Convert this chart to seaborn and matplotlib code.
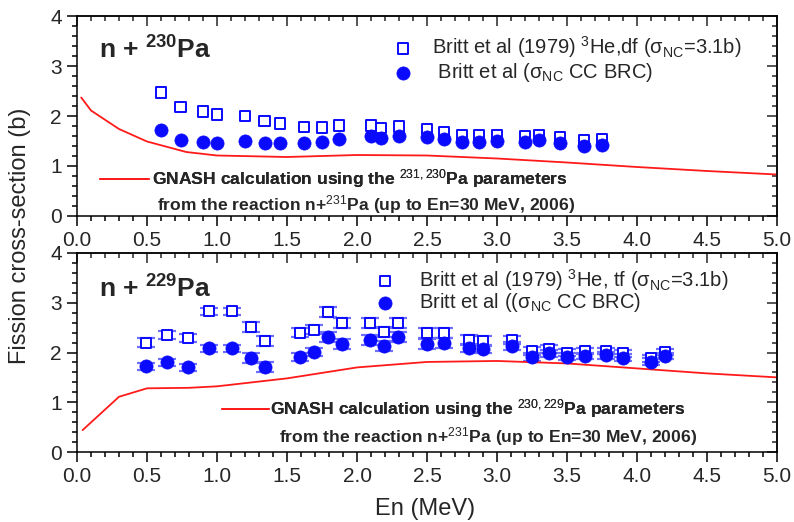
import matplotlib
matplotlib.use('Agg')
import matplotlib.pyplot as plt
import seaborn as sns
import numpy as np
from matplotlib.ticker import MultipleLocator

# ---------------- data: n + 230Pa (top panel) ----------------
e230 = [0.60, 0.74, 0.90, 1.00, 1.20, 1.34, 1.45, 1.62, 1.75, 1.87, 2.10, 2.17,
        2.30, 2.50, 2.62, 2.75, 2.87, 3.00, 3.20, 3.30, 3.45, 3.62, 3.75]
sq230 = [2.47, 2.18, 2.09, 2.03, 2.00, 1.90, 1.85, 1.78, 1.77, 1.81, 1.81, 1.76,
         1.79, 1.74, 1.68, 1.61, 1.61, 1.61, 1.59, 1.61, 1.57, 1.51, 1.53]
ci230 = [1.72, 1.52, 1.47, 1.45, 1.49, 1.45, 1.45, 1.45, 1.47, 1.53, 1.59, 1.56,
         1.60, 1.57, 1.53, 1.48, 1.48, 1.49, 1.48, 1.51, 1.45, 1.40, 1.42]
gx230 = [0.03, 0.10, 0.30, 0.50, 0.78, 1.00, 1.50, 2.00, 2.50, 3.00, 3.50, 4.00, 4.50, 5.00]
gy230 = [2.37, 2.11, 1.74, 1.49, 1.28, 1.21, 1.18, 1.22, 1.21, 1.15, 1.07, 0.98, 0.90, 0.83]

# ---------------- data: n + 229Pa (bottom panel) ----------------
e229 = [0.49, 0.64, 0.79, 0.94, 1.11, 1.24, 1.34, 1.59, 1.69, 1.79, 1.89, 2.09, 2.19,
        2.29, 2.50, 2.62, 2.80, 2.90, 3.11, 3.25, 3.37, 3.50, 3.63, 3.78, 3.90, 4.10, 4.20]
sq229 = [2.20, 2.36, 2.29, 2.83, 2.83, 2.52, 2.23, 2.40, 2.46, 2.81, 2.59, 2.59, 2.42,
         2.59, 2.39, 2.39, 2.26, 2.23, 2.26, 2.03, 2.08, 2.00, 2.03, 2.03, 1.98, 1.88, 2.01]
sq229_err = [0.09, 0.08, 0.08, 0.07, 0.07, 0.10, 0.10, 0.09, 0.09, 0.10, 0.10, 0.10, 0.10,
             0.10, 0.10, 0.10, 0.10, 0.10, 0.08, 0.08, 0.08, 0.07, 0.07, 0.07, 0.07, 0.07, 0.07]
ci229 = [1.72, 1.80, 1.70, 2.09, 2.09, 1.89, 1.70, 1.91, 2.01, 2.32, 2.18, 2.26, 2.14,
         2.32, 2.18, 2.20, 2.10, 2.08, 2.13, 1.91, 1.98, 1.91, 1.93, 1.94, 1.89, 1.81, 1.93]
ci229_err = [0.07, 0.07, 0.07, 0.07, 0.07, 0.10, 0.10, 0.09, 0.09, 0.10, 0.10, 0.10, 0.10,
             0.10, 0.10, 0.10, 0.08, 0.08, 0.08, 0.08, 0.08, 0.07, 0.07, 0.07, 0.07, 0.07, 0.07]
gx229 = [0.04, 0.30, 0.50, 0.80, 1.00, 1.50, 2.00, 2.50, 3.00, 3.50, 4.00, 4.50, 5.00]
gy229 = [0.44, 1.11, 1.28, 1.29, 1.32, 1.48, 1.70, 1.81, 1.83, 1.78, 1.68, 1.58, 1.50]

xticks = [0.0, 0.5, 1.0, 1.5, 2.0, 2.5, 3.0, 3.5, 4.0, 4.5, 5.0]
yticks = [0, 1, 2, 3, 4]

sns.set_style('white')
plt.rcParams['font.family'] = ['Liberation Sans', 'DejaVu Sans']
plt.rcParams['mathtext.fontset'] = 'custom'
plt.rcParams['mathtext.rm'] = 'Liberation Sans'
plt.rcParams['mathtext.bf'] = 'Liberation Sans:bold'
plt.rcParams['mathtext.it'] = 'Liberation Sans:italic'

W, H = 794, 522
fig = plt.figure(figsize=(W / 100, H / 100), dpi=100)

def fx(px):
    return px / W

def fy(py):
    return 1 - py / H

ax1 = fig.add_axes([fx(77), fy(216), fx(777) - fx(77), fy(16) - fy(216)])
ax2 = fig.add_axes([fx(77), fy(452), fx(777) - fx(77), fy(253) - fy(452)])

BLUE = '#0a0aff'
ERR = '#6e6eff'
RED = '#ff1a1a'
TICKFS = 15
LEGFS = 14.5
GFS = 12.6

def style_axes(ax):
    ax.set_xlim(0, 5)
    ax.set_ylim(0, 4)
    ax.set_xticks(xticks)
    ax.set_xticklabels([f'{t:.1f}' for t in xticks])
    ax.set_yticks(yticks)
    ax.set_yticklabels([str(t) for t in yticks])
    ax.xaxis.set_minor_locator(MultipleLocator(0.1))
    ax.yaxis.set_minor_locator(MultipleLocator(0.2))
    for s in ax.spines.values():
        s.set_visible(True)
        s.set_color('black')
        s.set_linewidth(1.1)
    ax.tick_params(which='both', direction='out', color='black', width=1.1,
                   top=False, right=False, bottom=True, left=True)
    ax.tick_params(which='major', length=7, labelsize=TICKFS, pad=4)
    ax.tick_params(which='minor', length=3.6)
    sx = ax.secondary_xaxis('top')
    sx.set_xticks(xticks)
    sx.xaxis.set_minor_locator(MultipleLocator(0.1))
    sx.tick_params(which='both', direction='in', labeltop=False, width=1.1)
    sx.tick_params(which='major', length=7)
    sx.tick_params(which='minor', length=3.6)
    sx.spines['top'].set_linewidth(1.1)
    sy = ax.secondary_yaxis('right')
    sy.set_yticks(yticks)
    sy.yaxis.set_minor_locator(MultipleLocator(0.2))
    sy.tick_params(which='both', direction='in', labelright=False, width=1.1)
    sy.tick_params(which='major', length=7)
    sy.tick_params(which='minor', length=3.6)
    sy.spines['right'].set_linewidth(1.1)
    ax.set_xlabel('')
    ax.set_ylabel('')
    ax.grid(False)

# ---- top panel ----
sns.lineplot(x=gx230, y=gy230, ax=ax1, color=RED, lw=1.3, sort=False,
             label='GNASH calculation using the $^{231,230}$Pa parameters')
sns.scatterplot(x=e230, y=sq230, ax=ax1, marker='s', s=58, facecolors='none',
                edgecolor=BLUE, linewidth=1.4,
                label='Britt et al (1979) $^3$He,df (σ$_{\\rm NC}$=3.1b)')
sns.scatterplot(x=e230, y=ci230, ax=ax1, marker='o', s=90, color=BLUE,
                edgecolor=BLUE, linewidth=0.5,
                label=' Britt et al (σ$_{\\rm NC}$ CC BRC)')

# ---- bottom panel ----
ax2.errorbar(e229, sq229, yerr=sq229_err, fmt='none', ecolor=ERR, elinewidth=1.3,
             capsize=6.5, capthick=1.6, zorder=2)
ax2.errorbar(e229, ci229, yerr=ci229_err, fmt='none', ecolor=ERR, elinewidth=1.3,
             capsize=6.5, capthick=1.6, zorder=2)
sns.lineplot(x=gx229, y=gy229, ax=ax2, color=RED, lw=1.3, sort=False,
             label='GNASH calculation using the $^{230,229}$Pa parameters')
sns.scatterplot(x=e229, y=sq229, ax=ax2, marker='s', s=58, facecolors='white',
                edgecolor=BLUE, linewidth=1.4, zorder=3,
                label='Britt et al (1979) $^3$He, tf (σ$_{\\rm NC}$=3.1b)')
sns.scatterplot(x=e229, y=ci229, ax=ax2, marker='o', s=90, color=BLUE,
                edgecolor=BLUE, linewidth=0.5, zorder=3,
                label='Britt et al ((σ$_{\\rm NC}$ CC BRC)')

for ax in (ax1, ax2):
    style_axes(ax)

def add_entry(ax, handle, label, px, py, fs, hl, htp, weight='normal'):
    leg = ax.legend([handle], [label], loc='center left',
                    bbox_to_anchor=(fx(px), fy(py)), bbox_transform=fig.transFigure,
                    frameon=False, borderpad=0, borderaxespad=0,
                    handlelength=hl, handletextpad=htp,
                    prop={'size': fs, 'weight': weight})
    ax.add_artist(leg)

h1, l1 = ax1.get_legend_handles_labels()
if ax1.get_legend():
    ax1.get_legend().remove()
h2, l2 = ax2.get_legend_handles_labels()
if ax2.get_legend():
    ax2.get_legend().remove()

# top legends
add_entry(ax1, h1[1], l1[1], 395, 47, LEGFS, 0.8, 1.05)
add_entry(ax1, h1[2], l1[2], 395, 73, LEGFS, 0.8, 1.05)
add_entry(ax1, h1[0], l1[0], 100, 179, GFS, 2.8, 0.2, weight='bold')
ax1.text(fx(157), fy(205), 'from the reaction n+$^{231}$Pa (up to En=30 MeV, 2006)',
         transform=fig.transFigure, fontsize=GFS, fontweight='bold', va='center', ha='left')

# bottom legends
add_entry(ax2, h2[1], l2[1], 377, 280, LEGFS, 0.8, 1.3)
add_entry(ax2, h2[2], l2[2], 377, 303, LEGFS, 0.8, 1.3)
add_entry(ax2, h2[0], l2[0], 222, 409, GFS, 2.7, 0.05, weight='bold')
ax2.text(fx(279), fy(437), 'from the reaction n+$^{231}$Pa (up to En=30 MeV, 2006)',
         transform=fig.transFigure, fontsize=GFS, fontweight='bold', va='center', ha='left')

# panel titles
ax1.text(fx(99), fy(50), 'n + $^{\\mathbf{230}}$Pa', transform=fig.transFigure,
         fontsize=19, fontweight='bold', va='center', ha='left')
ax2.text(fx(99), fy(289), 'n + $^{\\mathbf{229}}$Pa', transform=fig.transFigure,
         fontsize=19, fontweight='bold', va='center', ha='left')

fig.text(fx(20), fy(236), 'Fission cross-section (b)', rotation=90,
         fontsize=17, va='center', ha='center')
fig.text(fx(425), fy(509), 'En (MeV)', fontsize=17, va='center', ha='center')

fig.savefig('out.png', dpi=100)
